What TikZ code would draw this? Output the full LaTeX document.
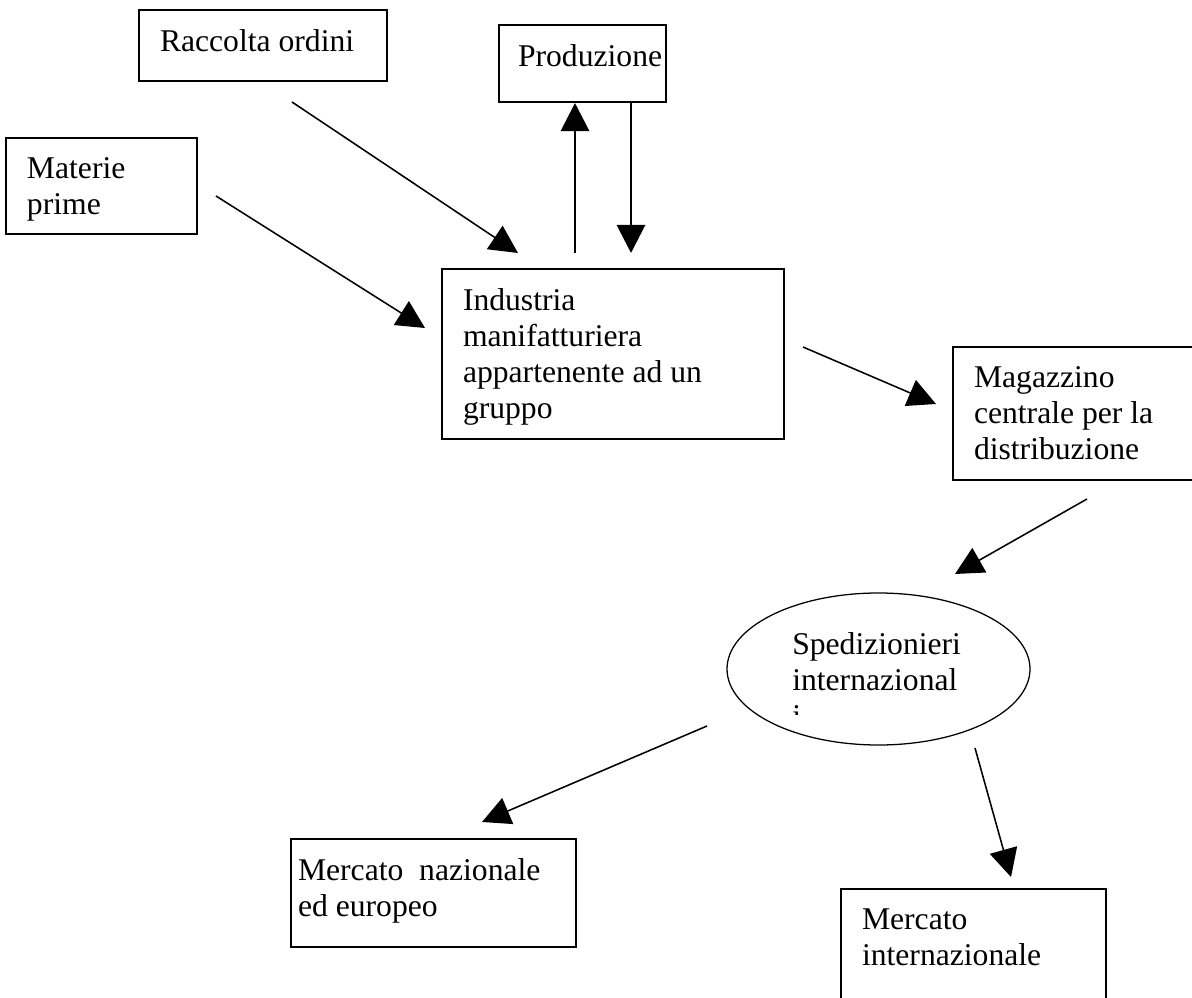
\documentclass[tikz,border=0pt]{standalone}
\usepackage{fontspec}
\setmainfont{Liberation Serif}
\usetikzlibrary{arrows.meta,shapes.geometric}
\newdimen\pxu \pxu=0.025cm
% fixed size text area, text at the top left
\newcommand{\boxtxt}[4][21]{\parbox[t][#3\pxu][t]{#2\pxu}{\raggedright\leftskip=#1\pxu\vspace*{19.5\pxu}#4}}

\begin{document}
\begin{tikzpicture}[x=0.025cm, y=-0.025cm,
  every node/.style={font=\fontsize{22.5}{25.6}\selectfont},
  box/.style={draw, line width=0.9pt, inner sep=0pt, outer sep=0pt, anchor=north west},
  ell/.style={ellipse, draw, line width=0.9pt, inner sep=0pt, minimum width=303\pxu, minimum height=152\pxu},
  arr/.style={line width=1.1pt, -{Triangle[length=0.7cm, width=0.7cm]}},
  arrT/.style={line width=2.1pt, -{Triangle[length=0.7cm, width=0.7cm]}}
]
\useasboundingbox (0,0) rectangle (1192,998);
% boxes
\node[box] (rac) at (139,10) {\boxtxt{248}{71}{Raccolta ordini}};
\node[box] (prod) at (499,25) {\boxtxt[19]{167}{77}{Produzione}};
\node[box] (mat) at (6,138) {\boxtxt{191}{96}{Materie\\prime}};
\node[box] (ind) at (442,269) {\boxtxt{342}{170}{Industria\\manifatturiera\\appartenente ad un\\gruppo}};
\node[box] (mag) at (953,347) {\boxtxt{260}{133}{Magazzino\\centrale per la\\distribuzione}};
\node[box] (naz) at (291,839) {\boxtxt[7]{285}{108}{Mercato\ \ nazionale\\ed europeo}};
\node[box] (int) at (841,889) {\boxtxt{265}{130}{Mercato\\internazionale}};
% spedizionieri, text cut off by the ellipse
\node[ell] (sped) at (878.5,669) {};
\begin{scope}
  \clip (760,600) rectangle (1010,714.5);
  \node[anchor=north west, inner sep=0pt] (spedtxt) at (792,632.4)
    {\parbox[t]{230\pxu}{Spedizionieri\\internazional\\i}};
\end{scope}
% arrow ends
\coordinate (rac-o) at (292,102);
\coordinate (ind-i1) at (518,253);
\coordinate (mat-o) at (216,196);
\coordinate (ind-i2) at (425,328);
\coordinate (ind-o1) at (575,253);
\coordinate (prod-i) at (575,103);
\coordinate (prod-o) at (631,102);
\coordinate (ind-i3) at (631,253);
\coordinate (ind-o2) at (803,347);
\coordinate (mag-i) at (936,404);
\coordinate (mag-o) at (1087,499);
\coordinate (sped-i) at (955,574);
\coordinate (sped-o1) at (707,726);
\coordinate (naz-i) at (482,822);
\coordinate (sped-o2) at (975,748);
\coordinate (int-i) at (1011,877);
% arrows
\draw[arr] (rac-o) -- (ind-i1);
\draw[arr] (mat-o) -- (ind-i2);
\draw[arrT] (ind-o1) -- (prod-i);
\draw[arrT] (prod-o) -- (ind-i3);
\draw[arr] (ind-o2) -- (mag-i);
\draw[arr] (mag-o) -- (sped-i);
\draw[arr] (sped-o1) -- (naz-i);
\draw[arr] (sped-o2) -- (int-i);
\end{tikzpicture}
\end{document}
